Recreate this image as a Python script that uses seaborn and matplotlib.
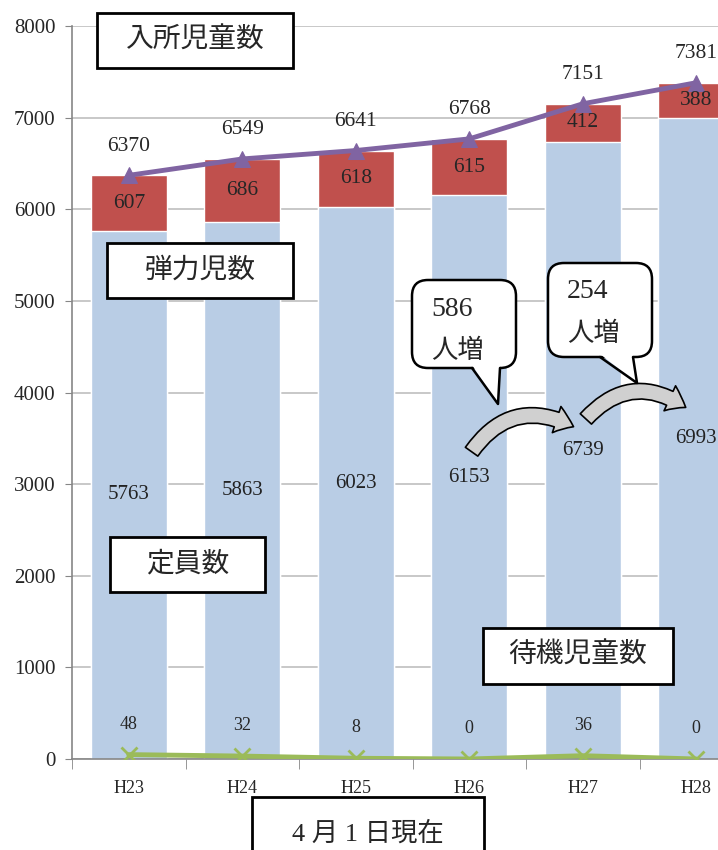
import numpy as np
import pandas as pd
import matplotlib
matplotlib.use('Agg')
import matplotlib.pyplot as plt
import seaborn as sns
from matplotlib.patches import Rectangle, FancyBboxPatch, Polygon, FancyArrowPatch

# --- データ ---
years = ['H23', 'H24', 'H25', 'H26', 'H27', 'H28']
capacity = [5763, 5863, 6023, 6153, 6739, 6993]   # 定員数
elastic = [607, 686, 618, 615, 412, 388]          # 弾力児数
enrolled = [6370, 6549, 6641, 6768, 7151, 7381]   # 入所児童数
waiting = [48, 32, 8, 0, 36, 0]                   # 待機児童数
increase = [586, 254]                             # 定員増

sns.set_style('white')
plt.rcParams['font.family'] = ['Liberation Serif', 'Noto Sans CJK JP']

df = pd.DataFrame({'year': years, 'capacity': capacity, 'elastic': elastic,
                   'enrolled': enrolled, 'waiting': waiting})
df['stack'] = df['capacity'] + df['elastic']
pos = np.arange(len(years))

fig = plt.figure(figsize=(7.18, 8.5), dpi=100)
ax = fig.add_axes([72 / 718, 91 / 850, 681 / 718, 733 / 850])

# 積み上げ棒 (弾力児数を上、定員数を下)
sns.barplot(data=df, x='year', y='stack', color='#C0504D', saturation=1,
            width=0.67, ax=ax, zorder=2)
sns.barplot(data=df, x='year', y='capacity', color='#B9CDE5', saturation=1,
            width=0.67, ax=ax, zorder=2)

ax.bar_label(ax.containers[1], labels=[str(v) for v in capacity],
             label_type='center', fontsize=15, color='#222222')
for i in range(len(years)):
    ax.text(pos[i], capacity[i] + elastic[i] / 2, str(elastic[i]),
            ha='center', va='center', fontsize=15.5, zorder=5)

# 折れ線
sns.lineplot(x=pos, y=enrolled, color='#8064A2', lw=3.5, marker='^',
             markersize=12, mec='#8064A2', mfc='#8064A2', ax=ax, zorder=4)
sns.lineplot(x=pos, y=waiting, color='#9BBB59', lw=3.5, marker='x',
             markersize=12, mec='#9BBB59', mew=2, ax=ax, zorder=4)

for i in range(len(years)):
    ax.annotate(str(enrolled[i]), (pos[i], enrolled[i]), xytext=(0, 21),
                textcoords='offset points', ha='center', va='center', fontsize=15.5)
    ax.annotate(str(waiting[i]), (pos[i], waiting[i]), xytext=(0, 22),
                textcoords='offset points', ha='center', va='center', fontsize=13)

# 軸
ax.set_xlim(-0.5, 5.5)
ax.set_ylim(0, 8000)
ax.set_yticks(range(0, 8001, 1000))
ax.set_xticks(pos)
ax.set_xticklabels(years)
ax.set_xticks(np.arange(-0.5, 6, 1), minor=True)
ax.set_xlabel('')
ax.set_ylabel('')
ax.yaxis.grid(True, color='#BFBFBF', lw=1.2)
ax.set_axisbelow(True)
for s in ['top', 'right']:
    ax.spines[s].set_visible(False)
for s in ['left', 'bottom']:
    ax.spines[s].set_color('#868686')
    ax.spines[s].set_linewidth(1.2)
ax.tick_params(axis='y', left=True, length=5, color='#868686', pad=7, labelsize=15)
ax.tick_params(axis='x', which='major', bottom=True, length=0, pad=15, labelsize=13)
ax.tick_params(axis='x', which='minor', bottom=True, length=7, color='#868686')

# 注釈用のオーバーレイ (ピクセル座標)
ov = fig.add_axes([0, 0, 1, 1])
ov.set_xlim(0, 718)
ov.set_ylim(850, 0)
ov.axis('off')
ov.patch.set_alpha(0)


def label_box(x0, y0, x1, y1, text, fs=20):
    ov.add_patch(Rectangle((x0, y0), x1 - x0, y1 - y0, fc='white', ec='black', lw=2))
    ov.text((x0 + x1) / 2, (y0 + y1) / 2, text, ha='center', va='center', fontsize=fs)


label_box(97, 13, 293, 68, '入所児童数')
label_box(107, 243, 293, 298, '弾力児数')
label_box(110, 537, 265, 592, '定員数')
label_box(483, 628, 673, 684, '待機児童数')
label_box(252, 797, 484, 870, '4 月 1 日現在', fs=19)


def bubble(x0, y0, x1, y1, base, tip, num):
    ov.add_patch(FancyBboxPatch((x0, y0), x1 - x0, y1 - y0,
                                boxstyle='round,pad=0,rounding_size=16',
                                fc='white', ec='black', lw=1.8, zorder=3))
    ov.add_patch(Polygon([(base[0], y1 - 3), tip, (base[1], y1 - 3)],
                         closed=True, fc='white', ec='none', zorder=4))
    ov.plot([base[0], tip[0], base[1]], [y1, tip[1], y1], color='black', lw=1.8, zorder=5)
    ov.text(x0 + 19, y0 + 29, str(num), ha='left', va='center', fontsize=20, zorder=6)
    ov.text(x0 + 19, y0 + 71, '人増', ha='left', va='center', fontsize=19, zorder=6)


bubble(412, 280, 516, 368, (472, 500), (498, 404), increase[0])
bubble(548, 263, 652, 357, (600, 633), (637, 383), increase[1])


def curve_arrow(a, b):
    ov.add_patch(FancyArrowPatch(a, b, connectionstyle='arc3,rad=-0.45',
                                 arrowstyle='simple,head_length=0.6,head_width=0.9,tail_width=0.5',
                                 mutation_scale=22, fc='#D0D0D0', ec='black', lw=1.2, zorder=3))


curve_arrow((470, 454), (576, 428))
curve_arrow((584, 421), (688, 409))

fig.savefig('out.png', dpi=100)
